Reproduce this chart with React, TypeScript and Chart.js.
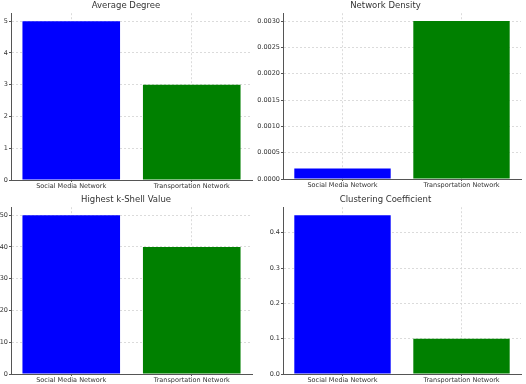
import React, { useEffect, useRef } from "react";
import { Chart, registerables } from "chart.js";

Chart.register(...registerables);

const categories = ["Social Media Network", "Transportation Network"];
const averageDegree = [5, 3];
const networkDensity = [0.0002, 0.003];
const kShell = [50, 40];
const clustering = [0.45, 0.1];
const barColors = ["#0000ff", "#008000"];

type Panel = {
  title: string;
  values: number[];
  max: number;
  step: number;
  decimals: number;
  pad: { left: number; right: number; top: number; bottom: number };
  yWidth: number;
};

const panels: Panel[] = [
  { title: "Average Degree", values: averageDegree, max: 5.25, step: 1, decimals: 0,
    pad: { left: 0, right: 274, top: 0, bottom: 194 }, yWidth: 11 },
  { title: "Network Density", values: networkDensity, max: 0.00315, step: 0.0005, decimals: 4,
    pad: { left: 250, right: 5, top: 0, bottom: 195 }, yWidth: 33 },
  { title: "Highest k-Shell Value", values: kShell, max: 52.5, step: 10, decimals: 0,
    pad: { left: 0, right: 274, top: 194, bottom: 0 }, yWidth: 11 },
  { title: "Clustering Coefficient", values: clustering, max: 0.4725, step: 0.1, decimals: 1,
    pad: { left: 250, right: 5, top: 194, bottom: 0 }, yWidth: 33 },
];

const FONT = "'DejaVu Sans', sans-serif";
const GRID = "rgba(215,215,215,0.9)";

function PanelChart({ p }: { p: Panel }) {
  const ref = useRef<HTMLCanvasElement>(null);
  useEffect(() => {
    const chart = new Chart(ref.current!, {
      type: "bar",
      data: {
        labels: categories,
        datasets: [
          {
            data: p.values,
            backgroundColor: barColors,
            borderWidth: 0,
            barPercentage: 0.81,
            categoryPercentage: 1,
          },
        ],
      },
      options: {
        animation: false,
        responsive: false,
        layout: { padding: p.pad },
        plugins: {
          legend: { display: false },
          tooltip: { enabled: false },
          title: {
            display: true,
            text: p.title,
            color: "#333",
            font: { family: FONT, size: 8.5, weight: "normal" },
            padding: { top: 1, bottom: 2 },
          },
        },
        scales: {
          x: {
            z: 1,
            grid: {
              offset: false,
              color: GRID,
              tickLength: 2,
              tickColor: "#555",
            },
            border: { color: "#555", width: 1, dash: [2, 2] },
            ticks: {
              color: "#333",
              font: { family: FONT, size: 6.5 },
              padding: 0,
              maxRotation: 0,
              autoSkip: false,
            },
            afterFit: (s: any) => {
              s.height = 10;
            },
          },
          y: {
            z: 1,
            min: 0,
            max: p.max,
            grid: {
              color: GRID,
              tickLength: 2,
              tickColor: "#555",
            },
            border: { color: "#555", width: 1, dash: [2, 2] },
            ticks: {
              stepSize: p.step,
              includeBounds: false,
              color: "#333",
              font: { family: FONT, size: 6.5 },
              padding: 1,
              callback: (v: any) => Number(v).toFixed(p.decimals),
            },
            afterFit: (s: any) => {
              s.width = p.yWidth;
            },
          },
        },
      },
    } as any);
    return () => chart.destroy();
  }, [p]);
  return (
    <canvas
      ref={ref}
      width={526}
      height={384}
      style={{ position: "absolute", left: 0, top: 0, width: 526, height: 384 }}
    />
  );
}

export default function App() {
  return (
    <div
      style={{
        position: "fixed",
        left: 0,
        top: 0,
        width: 526,
        height: 384,
        background: "#fff",
      }}
    >
      {panels.map((p, i) => (
        <PanelChart key={i} p={p} />
      ))}
    </div>
  );
}
